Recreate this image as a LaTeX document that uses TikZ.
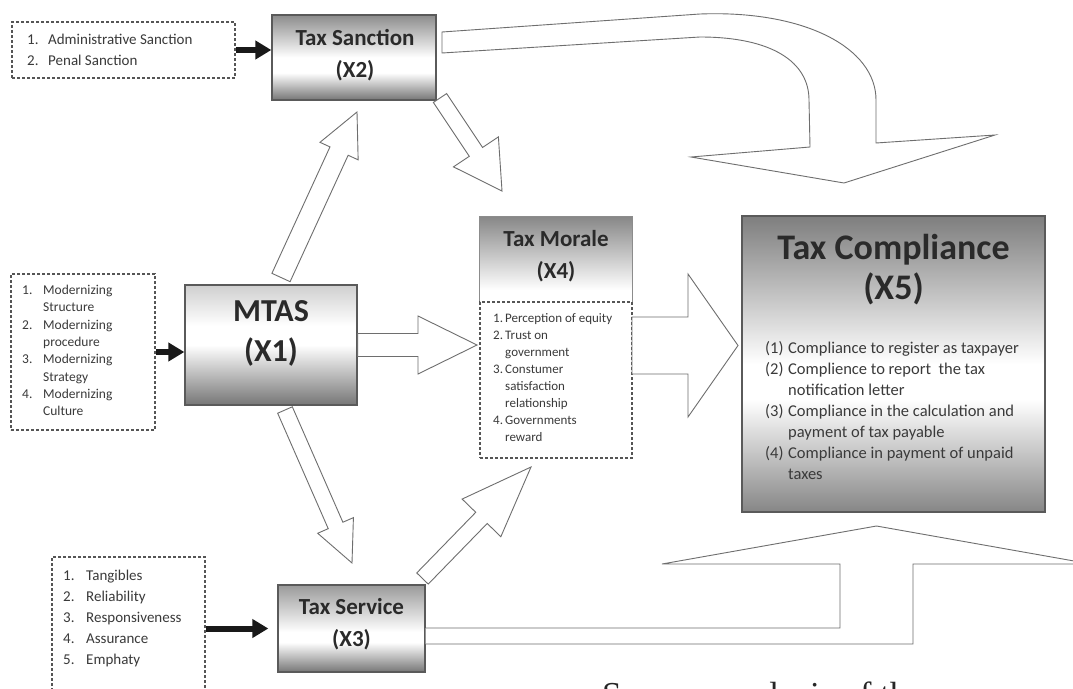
\documentclass[tikz,border=0pt]{standalone}
\usepackage{fontspec}
\setmainfont{Carlito}
\newfontfamily\serifsrc{Liberation Serif}
\usetikzlibrary{calc,arrows.meta}
\definecolor{boxline}{HTML}{5A5A5A}
\definecolor{dline}{HTML}{555555}
\definecolor{arrline}{HTML}{6E6E6E}
\definecolor{txt}{HTML}{2A2A2A}
\definecolor{ltxt}{HTML}{3A3A3A}
\definecolor{gdark}{HTML}{767676}
\definecolor{gmid}{HTML}{8C8C8C}
\definecolor{glight}{HTML}{CFCFCF}
\definecolor{gserv}{HTML}{9A9A9A}
\definecolor{gcomp}{HTML}{7E7E7E}
\definecolor{gcompb}{HTML}{868686}
\definecolor{gmor}{HTML}{888888}
\pgfdeclareverticalshading{shsanct}{100bp}{color(0bp)=(gdark); color(25bp)=(gdark); color(41bp)=(white); color(50bp)=(white); color(75bp)=(gmid); color(100bp)=(gmid)}
\pgfdeclareverticalshading{shmtas}{100bp}{color(0bp)=(gdark); color(25bp)=(gdark); color(50bp)=(white); color(58bp)=(white); color(75bp)=(glight); color(100bp)=(glight)}
\pgfdeclareverticalshading{shserv}{100bp}{color(0bp)=(gdark); color(25bp)=(gdark); color(42bp)=(white); color(48bp)=(white); color(75bp)=(gserv); color(100bp)=(gserv)}
\pgfdeclareverticalshading{shcomp}{100bp}{color(0bp)=(gcompb); color(25bp)=(gcompb); color(44bp)=(white); color(50bp)=(white); color(75bp)=(gcomp); color(100bp)=(gcomp)}
\pgfdeclareverticalshading{shmor}{100bp}{color(0bp)=(white); color(25bp)=(white); color(32bp)=(white); color(75bp)=(gmor); color(100bp)=(gmor)}
\tikzset{
  gbox/.style={draw=boxline, line width=1.3pt, inner sep=0pt, shade},
  dbox/.style={draw=dline, dash pattern=on 3pt off 2pt, line width=1.1pt, inner sep=0pt},
  ttl/.style={align=center, text=txt, inner sep=0pt},
  lst/.style={anchor=base west, inner sep=0pt, text=ltxt},
  blockarrow/.style={draw=arrline, line width=0.9pt, fill=white, line join=miter},
  blk/.style={line width=6pt, draw=black!90, -{Triangle[length=16pt,width=18pt]}},
}
% block arrow: #2 start, #3 tip, #4 shaft half width, #5 head half width, #6 head length
\newcommand\blockarr[6][]{%
  \coordinate (bah) at ($(#3)!#6!(#2)$);
  \draw[blockarrow,#1] ($(#2)!#4!90:(#3)$) -- ($(bah)!#4!90:(#3)$) -- ($(bah)!#5!90:(#3)$) -- (#3)
    -- ($(bah)!#5!-90:(#3)$) -- ($(bah)!#4!-90:(#3)$) -- ($(#2)!#4!-90:(#3)$) -- cycle;}
\begin{document}
\begin{tikzpicture}[x=1pt,y=-1pt]
\useasboundingbox (0,0) rectangle (1073,688);
\clip (0,0) rectangle (1073,688);
\fill[white] (0,0) rectangle (1073,688);

% ---------- boxes ----------
\node[gbox, shading=shsanct, minimum width=164pt, minimum height=85pt] (x2) at (354,57.5) {};
\node[gbox, shading=shmtas, minimum width=172pt, minimum height=120pt] (x1) at (271,345) {};
\node[gbox, shading=shserv, minimum width=147pt, minimum height=87pt] (x3) at (351.5,628.5) {};
\node[gbox, shading=shcomp, minimum width=303pt, minimum height=296pt] (x5) at (893.5,364) {};
\node[shading=shmor, shade, inner sep=0pt, minimum width=152pt, minimum height=85pt] (x4h) at (556,259.5) {};
\draw[draw=gmid, line width=1pt] (x4h.south west) -- (x4h.north west) -- (x4h.north east) -- (x4h.south east);
\node[dbox, minimum width=152pt, minimum height=156pt] (x4) at (556,380) {};

% dashed lists
\node[dbox, minimum width=223pt, minimum height=56pt] (l2) at (123.5,50) {};
\node[dbox, minimum width=144pt, minimum height=156pt] (l1) at (83,352) {};
\node[dbox, minimum width=153pt, minimum height=143pt] (l3) at (128.5,628.5) {};

% ---------- titles ----------
\node[ttl, font=\fontsize{23}{32}\selectfont\bfseries] (t2) at (355,55) {Tax Sanction\\(X2)};
\node[ttl, font=\fontsize{32}{40}\selectfont\bfseries] (t1) at (271,333) {MTAS\\(X1)};
\node[ttl, font=\fontsize{23}{32}\selectfont\bfseries] (t3) at (351.5,624) {Tax Service\\(X3)};
\node[ttl, font=\fontsize{23}{32}\selectfont\bfseries] (t4) at (556,256) {Tax Morale\\(X4)};
\node[ttl, font=\fontsize{36}{40}\selectfont\bfseries] (t5) at (893.5,270) {Tax Compliance\\(X5)};

% ---------- list texts ----------
\node[lst, font=\fontsize{15}{21}\selectfont] (l2t) at (27,44)
  {\begin{tabular}[t]{@{}p{21pt}@{}l@{}}1.&Administrative Sanction\\2.&Penal Sanction\end{tabular}};
\node[lst, font=\fontsize{13.5}{17.3}\selectfont] (l1t) at (22,294.5)
  {\begin{tabular}[t]{@{}p{21pt}@{}l@{}}1.&Modernizing\\&Structure\\2.&Modernizing\\&procedure\\3.&Modernizing\\&Strategy\\4.&Modernizing\\&Culture\end{tabular}};
\node[lst, font=\fontsize{15}{21.2}\selectfont] (l3t) at (63,580)
  {\begin{tabular}[t]{@{}p{23pt}@{}l@{}}1.&Tangibles\\2.&Reliability\\3.&Responsiveness\\4.&Assurance\\5.&Emphaty\end{tabular}};
\node[lst, font=\fontsize{13}{17.1}\selectfont] (l4t) at (493,322)
  {\begin{tabular}[t]{@{}p{12pt}@{}l@{}}1.&Perception of equity\\2.&Trust on\\&government\\3.&Constumer\\&satisfaction\\&relationship\\4.&Governments\\&reward\end{tabular}};
\node[lst, font=\fontsize{16.5}{21.1}\selectfont] (l5t) at (765,353)
  {\begin{tabular}[t]{@{}p{23pt}@{}l@{}}(1)&Compliance to register as taxpayer\\(2)&Complience to report\ \ the tax\\&notification letter\\(3)&Compliance in the calculation and\\&payment of tax payable\\(4)&Compliance in payment of unpaid\\&taxes\end{tabular}};

% ---------- black input arrows ----------
\draw[blk] (l2.east) -- (l2.east -| x2.west);
\draw[blk] (l1.east) -- (l1.east -| x1.west);
\draw[blk, shorten >=9pt] (l3.east) -- (l3.east -| x3.west);

% ---------- block arrows ----------
\coordinate (a12s) at (281,277.5); \coordinate (a12t) at (357,112);
\coordinate (a14t) at (477,345);
\coordinate (a24s) at (440,98);    \coordinate (a24t) at (502,191);
\coordinate (a13s) at (285,410);   \coordinate (a13t) at (352,563);
\coordinate (a34s) at (422.5,578.5); \coordinate (a34t) at (531,467);
\coordinate (a45s) at (632,345.5); \coordinate (a45t) at (738,345.5);
\blockarr{a12s}{a12t}{10pt}{21pt}{43pt}
\blockarr{x1.east}{a14t}{11.5pt}{29pt}{59pt}
\blockarr{a24s}{a24t}{8pt}{27pt}{47pt}
\blockarr{a13s}{a13t}{8pt}{19.5pt}{41pt}
\blockarr{a34s}{a34t}{8pt}{27pt}{71pt}
\blockarr{a45s}{a45t}{28.5pt}{71.5pt}{50pt}

% curved arrow: Tax Sanction -> Tax Compliance
\coordinate (c25s) at (442,32);
\coordinate (c25t) at (844,183);
\draw[blockarrow] (c25s) -- (700,14) .. controls (805,10) and (876,48) .. (876,100) -- (876,143)
  -- (995,135) -- (c25t) -- (691,157) -- (810,147) -- (809,100)
  .. controls (809,62) and (772,37) .. (700,37) -- (442,53) -- cycle;

% bent arrow: Tax Service -> Tax Compliance
\coordinate (b35t) at (876.5,526);
\draw[blockarrow] (x3.east |- 0,628) -- (840,628) -- (840,564) -- (662,564) -- (b35t)
  -- (1091,564) -- (913,564) -- (913,644) -- (x3.east |- 0,644);

% ---------- source line (cut at the bottom, as in the reference) ----------
\node[anchor=base west, inner sep=0pt, font=\serifsrc\fontsize{35}{40}\selectfont, text=black!85] (src) at (602,706) {Source: analysis of the};
\end{tikzpicture}
\end{document}
